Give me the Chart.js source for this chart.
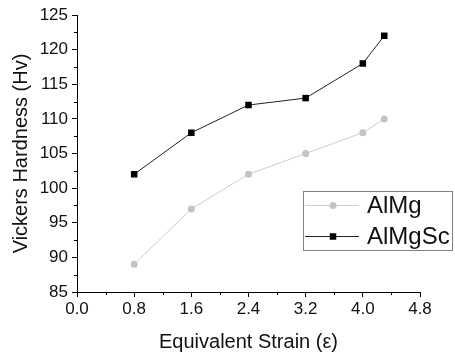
<!DOCTYPE html>
<html>
<head>
<meta charset="utf-8">
<script src="https://cdn.jsdelivr.net/npm/chart.js@4.4.1/dist/chart.umd.min.js"></script>
<style>
  html, body { margin: 0; padding: 0; background: #fff; }
  #wrap { width: 455px; height: 354px; }
</style>
</head>
<body>
<div id="wrap"><canvas id="hardness" width="455" height="354"></canvas></div>
<script>
// values
const strain = [0.8, 1.6, 2.4, 3.2, 4.0, 4.3];
const alMg = [89, 97, 102, 105, 108, 110];
const alMgSc = [102, 108, 112, 113, 118, 122];
const seriesNames = ["AlMg", "AlMgSc"];

const FONT = "'Liberation Sans', Arial, sans-serif";

// small outward minor ticks between the labelled ones
const minorTicks = {
  id: "minorTicks",
  afterDraw(chart) {
    const { ctx, scales: { x, y } } = chart;
    ctx.save();
    ctx.strokeStyle = "#000";
    ctx.lineWidth = 1;
    ctx.beginPath();
    for (let v = 0.4; v < 4.8; v += 0.8) {
      const px = Math.round(x.getPixelForValue(v)) + 0.5;
      ctx.moveTo(px, x.top);
      ctx.lineTo(px, x.top + 3);
    }
    for (let v = 87.5; v < 125; v += 5) {
      const py = Math.round(y.getPixelForValue(v)) + 0.5;
      ctx.moveTo(y.right, py);
      ctx.lineTo(y.right - 3, py);
    }
    ctx.stroke();
    ctx.restore();
  }
};

// boxed legend sitting inside the plot, lower right
const boxLegend = {
  id: "boxLegend",
  afterDraw(chart) {
    const { ctx } = chart;
    const bx = 303, by = 191, bw = 149, bh = 59;
    ctx.save();
    ctx.strokeStyle = "#808080";
    ctx.lineWidth = 1;
    ctx.strokeRect(bx + 0.5, by + 0.5, bw, bh);
    chart.data.datasets.forEach((ds, i) => {
      const ly = by + 14 + i * 31;
      ctx.strokeStyle = ds.borderColor;
      ctx.lineWidth = ds.borderWidth;
      ctx.beginPath();
      ctx.moveTo(bx + 2, ly + 0.5);
      ctx.lineTo(bx + 56, ly + 0.5);
      ctx.stroke();
      ctx.fillStyle = ds.pointBackgroundColor;
      ctx.strokeStyle = ds.pointBackgroundColor;
      Chart.helpers.drawPoint(ctx, {
        pointStyle: ds.pointStyle,
        radius: ds.pointRadius,
        borderWidth: 0
      }, bx + 30, ly + 0.5);
      ctx.fillStyle = "#111";
      ctx.font = "24px " + FONT;
      ctx.textBaseline = "middle";
      ctx.fillText(ds.label, bx + 64, ly + 1);
    });
    ctx.restore();
  }
};

Chart.defaults.font.family = FONT;

const ctx = document.getElementById("hardness").getContext("2d");

const chart = new Chart(ctx, {
  type: "line",
  data: {
    datasets: [
      {
        label: seriesNames[0],
        data: strain.map((s, i) => ({ x: s, y: alMg[i] })),
        borderColor: "#cdcdcd",
        backgroundColor: "#c3c3c3",
        borderWidth: 1,
        pointStyle: "circle",
        pointRadius: 3.5,
        pointBorderWidth: 0,
        pointBackgroundColor: "#c3c3c3"
      },
      {
        label: seriesNames[1],
        data: strain.map((s, i) => ({ x: s, y: alMgSc[i] })),
        borderColor: "#222",
        backgroundColor: "#000",
        borderWidth: 1,
        pointStyle: "rect",
        pointRadius: 4.6,
        pointBorderWidth: 0,
        pointBackgroundColor: "#000"
      }
    ]
  },
  options: {
    responsive: false,
    animation: false,
    layout: { padding: { top: 15, right: 35, left: 0, bottom: 0 } },
    plugins: {
      legend: { display: false },
      tooltip: { enabled: false }
    },
    scales: {
      x: {
        type: "linear",
        min: 0,
        max: 4.8,
        afterFit: (s) => { s.height = 62; },
        border: { display: true, color: "#000", width: 1 },
        grid: { drawOnChartArea: false, drawTicks: true, tickLength: 5, color: "#000" },
        ticks: {
          stepSize: 0.8,
          padding: 2,
          color: "#111",
          font: { size: 17 },
          callback: (v) => Number(v).toFixed(1)
        },
        title: {
          display: true,
          text: "Equivalent Strain (ε)",
          color: "#111",
          font: { size: 20 },
          padding: { top: 2, bottom: 0 }
        }
      },
      y: {
        min: 85,
        max: 125,
        afterFit: (s) => { s.width = 77; },
        border: { display: true, color: "#000", width: 1 },
        grid: { drawOnChartArea: false, drawTicks: true, tickLength: 5, color: "#000" },
        ticks: {
          stepSize: 5,
          padding: 4,
          color: "#111",
          font: { size: 17 }
        },
        title: {
          display: true,
          text: "Vickers Hardness (Hv)",
          color: "#111",
          font: { size: 20 },
          padding: { top: 9, bottom: 0 }
        }
      }
    }
  },
  plugins: [minorTicks, boxLegend]
});
</script>
</body>
</html>
